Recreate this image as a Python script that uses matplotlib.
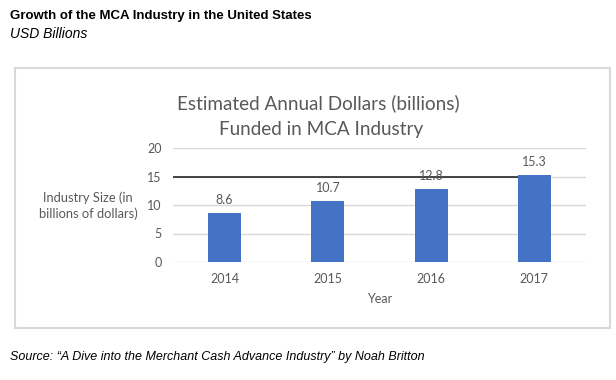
import matplotlib
matplotlib.use("Agg")
import matplotlib.pyplot as plt
from matplotlib.patches import Rectangle

years = ["2014", "2015", "2016", "2017"]
values = [8.6, 10.7, 12.8, 15.3]
ref_line = 15
yticks = [0, 5, 10, 15, 20]

W, H = 616, 380
fig = plt.figure(figsize=(W / 100, H / 100), dpi=100)
fig.patch.set_facecolor("white")

def fx(px):
    return px / W

def fy(py):
    return 1 - py / H

# outer box
fig.add_artist(Rectangle((fx(15), fy(328)), fx(610) - fx(15), fy(68) - fy(328),
                         transform=fig.transFigure, fill=False,
                         edgecolor="#d9d9d9", linewidth=1.5))

fig.text(fx(10), fy(16), "Growth of the MCA Industry in the United States",
         family="Liberation Sans", weight="bold", fontsize=9.5, va="center", ha="left")
fig.text(fx(10), fy(34), "USD Billions", family="Liberation Sans", style="italic",
         fontsize=10, va="center", ha="left")
fig.text(fx(10), fy(357), "Source: \u201cA Dive into the Merchant Cash Advance Industry\u201d by Noah Britton",
         family="Liberation Sans", style="italic", fontsize=9.0, va="center", ha="left")

gray = "#595959"
tfont = "Lato"

fig.text(fx(318), fy(103), "Estimated Annual Dollars (billions)", family=tfont,
         fontsize=13.6, color=gray, ha="center", va="center")
fig.text(fx(321), fy(129), "Funded in MCA Industry", family=tfont,
         fontsize=13.6, color=gray, ha="center", va="center")

ax = fig.add_axes([fx(173), fy(262), fx(586) - fx(173), fy(148) - fy(262)])
x = list(range(len(years)))
bw = 0.32
bars = ax.bar(x, values, width=bw, color="#4472C4", zorder=3)
ax.set_xlim(-0.5, len(years) - 0.5)
ax.set_ylim(0, 20)
ax.set_yticks(yticks)
ax.set_xticks(x)
ax.set_xticklabels(years)
ax.grid(axis="y", color="#d9d9d9", linewidth=1, zorder=0)
for s in ax.spines.values():
    s.set_visible(False)
ax.tick_params(length=0, colors=gray, labelsize=9, pad=8)
for lab in ax.get_xticklabels() + ax.get_yticklabels():
    lab.set_family(tfont)
ax.hlines(ref_line, -0.5, x[-1] - bw / 2, color="#262626", linewidth=1.2, zorder=4)

for xi, v in zip(x, values):
    ax.annotate(f"{v}", (xi, v), xytext=(0, 5), textcoords="offset points",
                ha="center", va="bottom", family=tfont, fontsize=9, color=gray, zorder=5)

ax.set_xlabel("Year", family=tfont, fontsize=9, color=gray, labelpad=6)
fig.text(fx(88), fy(206), "Industry Size (in\nbillions of dollars)", family=tfont,
         fontsize=9.3, color=gray, ha="center", va="center", linespacing=1.3)

fig.savefig("out.png", dpi=100, facecolor="white")
